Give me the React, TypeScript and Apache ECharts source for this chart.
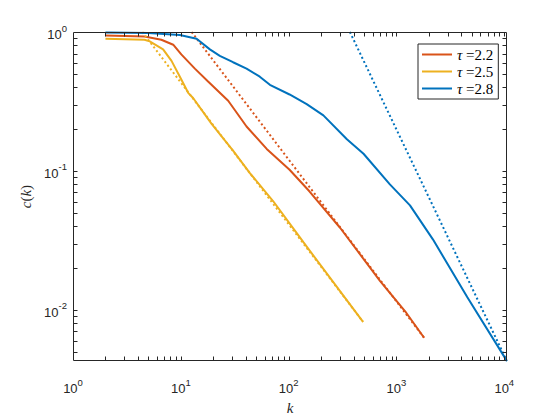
import React, { useEffect, useRef } from "react";
import * as echarts from "echarts";

// Measured curves c(k) for three exponents (solid) and their power-law guides (dotted)
const kTau22 = [2, 4.6, 6.6, 8.5, 10.1, 13.5, 17.9, 27.5, 40.7, 62.6, 102, 155, 300, 703, 1236, 1805];
const cTau22 = [0.943, 0.928, 0.88, 0.81, 0.69, 0.545, 0.44, 0.32, 0.209, 0.144, 0.102, 0.0717, 0.039, 0.0162, 0.0095, 0.0063];

const kTau25 = [2, 4.6, 5.15, 6.85, 8.2, 9.8, 11.7, 13, 19.3, 30.5, 43.7, 72, 118, 137, 490];
const cTau25 = [0.894, 0.88, 0.856, 0.75, 0.62, 0.477, 0.365, 0.335, 0.218, 0.14, 0.0966, 0.0605, 0.036, 0.0307, 0.0082];

const kTau28 = [2, 5, 9.8, 14, 18.6, 23, 30.5, 40.7, 54, 67, 102, 147, 210, 347, 495, 869, 1335, 2177, 4530, 10600];
const cTau28 = [0.99, 0.985, 0.953, 0.894, 0.75, 0.674, 0.606, 0.545, 0.477, 0.417, 0.355, 0.303, 0.251, 0.169, 0.133, 0.08, 0.0565, 0.0322, 0.0124, 0.00428];

const kFit22 = [12.6, 72, 1805];
const cFit22 = [1.0, 0.169, 0.0063];
const kFit25 = [4.4, 12.6, 490];
const cFit25 = [1.0, 0.342, 0.0082];
const kFit28 = [370, 1980, 10400];
const cFit28 = [1.0, 0.0655, 0.0044];

const seriesNames = ["τ =2.2", "τ =2.5", "τ =2.8"];
const seriesColors = ["#D95319", "#EDB120", "#0072BD"];

const X_MIN = 1;
const X_MAX = 10600;
const Y_MIN = 0.00428;
const Y_MAX = 1;
const tickMultipliers = [1, 2, 3, 4, 5, 6, 7, 8, 9];

const AXIS_COLOR = "#262626";
const SANS = "Liberation Sans";
const SERIF = "Liberation Serif";

const pairs = (k: number[], c: number[]) => k.map((v, i) => [v, c[i]]);

function logTicks(lo: number, hi: number): number[] {
  const out: number[] = [];
  const e0 = Math.floor(Math.log10(lo));
  const e1 = Math.ceil(Math.log10(hi));
  for (let e = e0; e <= e1; e++) {
    for (const m of tickMultipliers) {
      const v = m * Math.pow(10, e);
      if (v > lo * (1 + 1e-9) && v < hi * (1 - 1e-9)) out.push(v);
    }
  }
  return out;
}

const xTicks = logTicks(X_MIN, X_MAX);
const yTicks = logTicks(Y_MIN, Y_MAX);

function powerLabel(v: number): string {
  const e = Math.log10(v);
  const r = Math.round(e);
  if (Math.abs(e - r) > 1e-6) return "";
  return `{b|10}{s|${r}}`;
}

const labelRich = {
  b: { fontSize: 13, fontFamily: SANS, color: AXIS_COLOR, verticalAlign: "bottom" },
  s: { fontSize: 9.5, fontFamily: SANS, color: AXIS_COLOR, verticalAlign: "top", padding: [0, 0, 8, 0] },
};

// Box around the plot with inward ticks on all four sides
function renderFrame(_params: any, api: any) {
  const bl = api.coord([X_MIN, Y_MIN]);
  const tr = api.coord([X_MAX, Y_MAX]);
  const L = Math.round(bl[0]) + 0.5;
  const B = Math.round(bl[1]) - 0.5;
  const R = Math.round(tr[0]) - 0.5;
  const T = Math.round(tr[1]) + 0.5;
  const len = 4;
  const style = { stroke: AXIS_COLOR, lineWidth: 1, fill: null };
  const children: any[] = [
    { type: "rect", shape: { x: L, y: T, width: R - L, height: B - T }, style },
  ];
  for (const v of xTicks) {
    const x = Math.round(api.coord([v, Y_MIN])[0]) + 0.5;
    children.push({ type: "line", shape: { x1: x, y1: B, x2: x, y2: B - len }, style });
    children.push({ type: "line", shape: { x1: x, y1: T, x2: x, y2: T + len }, style });
  }
  for (const v of yTicks) {
    const y = Math.round(api.coord([X_MIN, v])[1]) + 0.5;
    children.push({ type: "line", shape: { x1: L, y1: y, x2: L + len, y2: y }, style });
    children.push({ type: "line", shape: { x1: R, y1: y, x2: R - len, y2: y }, style });
  }
  return { type: "group", children };
}

function solid(name: string, color: string, data: number[][]) {
  return {
    name,
    type: "line",
    data,
    showSymbol: false,
    symbol: "none",
    lineStyle: { color, width: 2 },
    itemStyle: { color },
    z: 3,
  };
}

function dotted(name: string, color: string, data: number[][]) {
  return {
    name,
    type: "line",
    data,
    showSymbol: false,
    symbol: "none",
    lineStyle: { color, width: 2, type: [2, 2.6] },
    itemStyle: { color },
    z: 3,
  };
}

export default function App() {
  const ref = useRef<HTMLDivElement>(null);

  useEffect(() => {
    const chart = echarts.init(ref.current!, undefined, { renderer: "svg" });
    chart.setOption({
      animation: false,
      backgroundColor: "#ffffff",
      grid: { left: 73, top: 32, width: 434, height: 341 },
      xAxis: {
        type: "log",
        logBase: 10,
        min: X_MIN,
        max: X_MAX,
        axisLine: { show: false },
        axisTick: { show: false },
        splitLine: { show: false },
        axisLabel: { formatter: powerLabel, margin: 16, rich: labelRich },
        name: "{i|k}",
        nameLocation: "middle",
        nameGap: 33,
        nameTextStyle: {
          rich: { i: { fontFamily: SERIF, fontStyle: "italic", fontSize: 15, color: AXIS_COLOR } },
        },
      },
      yAxis: {
        type: "log",
        logBase: 10,
        min: Y_MIN,
        max: Y_MAX,
        axisLine: { show: false },
        axisTick: { show: false },
        splitLine: { show: false },
        axisLabel: { formatter: powerLabel, margin: 6, rich: labelRich },
        name: "{i|c}{r|(}{i|k}{r|)}",
        nameLocation: "middle",
        nameGap: 36,
        nameTextStyle: {
          rich: {
            i: { fontFamily: SERIF, fontStyle: "italic", fontSize: 15, color: AXIS_COLOR },
            r: { fontFamily: SERIF, fontSize: 15, color: AXIS_COLOR },
          },
        },
      },
      legend: {
        data: seriesNames,
        orient: "vertical",
        left: 418,
        top: 44,
        padding: [3, 5, 3, 4],
        itemGap: 2,
        itemWidth: 30,
        itemHeight: 2,
        icon: "rect",
        backgroundColor: "#ffffff",
        borderColor: AXIS_COLOR,
        borderWidth: 1,
        borderRadius: 0,
        formatter: (name: string) => `{t|τ}{n|${name.slice(1)}}`,
        textStyle: {
          fontFamily: SERIF,
          rich: {
            t: { fontFamily: SERIF, fontStyle: "italic", fontSize: 15, color: "#000", lineHeight: 13 },
            n: { fontFamily: SERIF, fontSize: 15, color: "#000", lineHeight: 13 },
          },
        },
      },
      series: [
        solid(seriesNames[0], seriesColors[0], pairs(kTau22, cTau22)),
        dotted("fit 2.2", seriesColors[0], pairs(kFit22, cFit22)),
        solid(seriesNames[1], seriesColors[1], pairs(kTau25, cTau25)),
        dotted("fit 2.5", seriesColors[1], pairs(kFit25, cFit25)),
        solid(seriesNames[2], seriesColors[2], pairs(kTau28, cTau28)),
        dotted("fit 2.8", seriesColors[2], pairs(kFit28, cFit28)),
        {
          type: "custom",
          coordinateSystem: "cartesian2d",
          renderItem: renderFrame,
          data: [[X_MIN, Y_MIN]],
          silent: true,
          clip: false,
          z: 10,
        },
      ],
    });
    return () => chart.dispose();
  }, []);

  return (
    <div
      ref={ref}
      style={{ width: 560, height: 420, position: "absolute", left: 0, top: 0, background: "#fff" }}
    />
  );
}
